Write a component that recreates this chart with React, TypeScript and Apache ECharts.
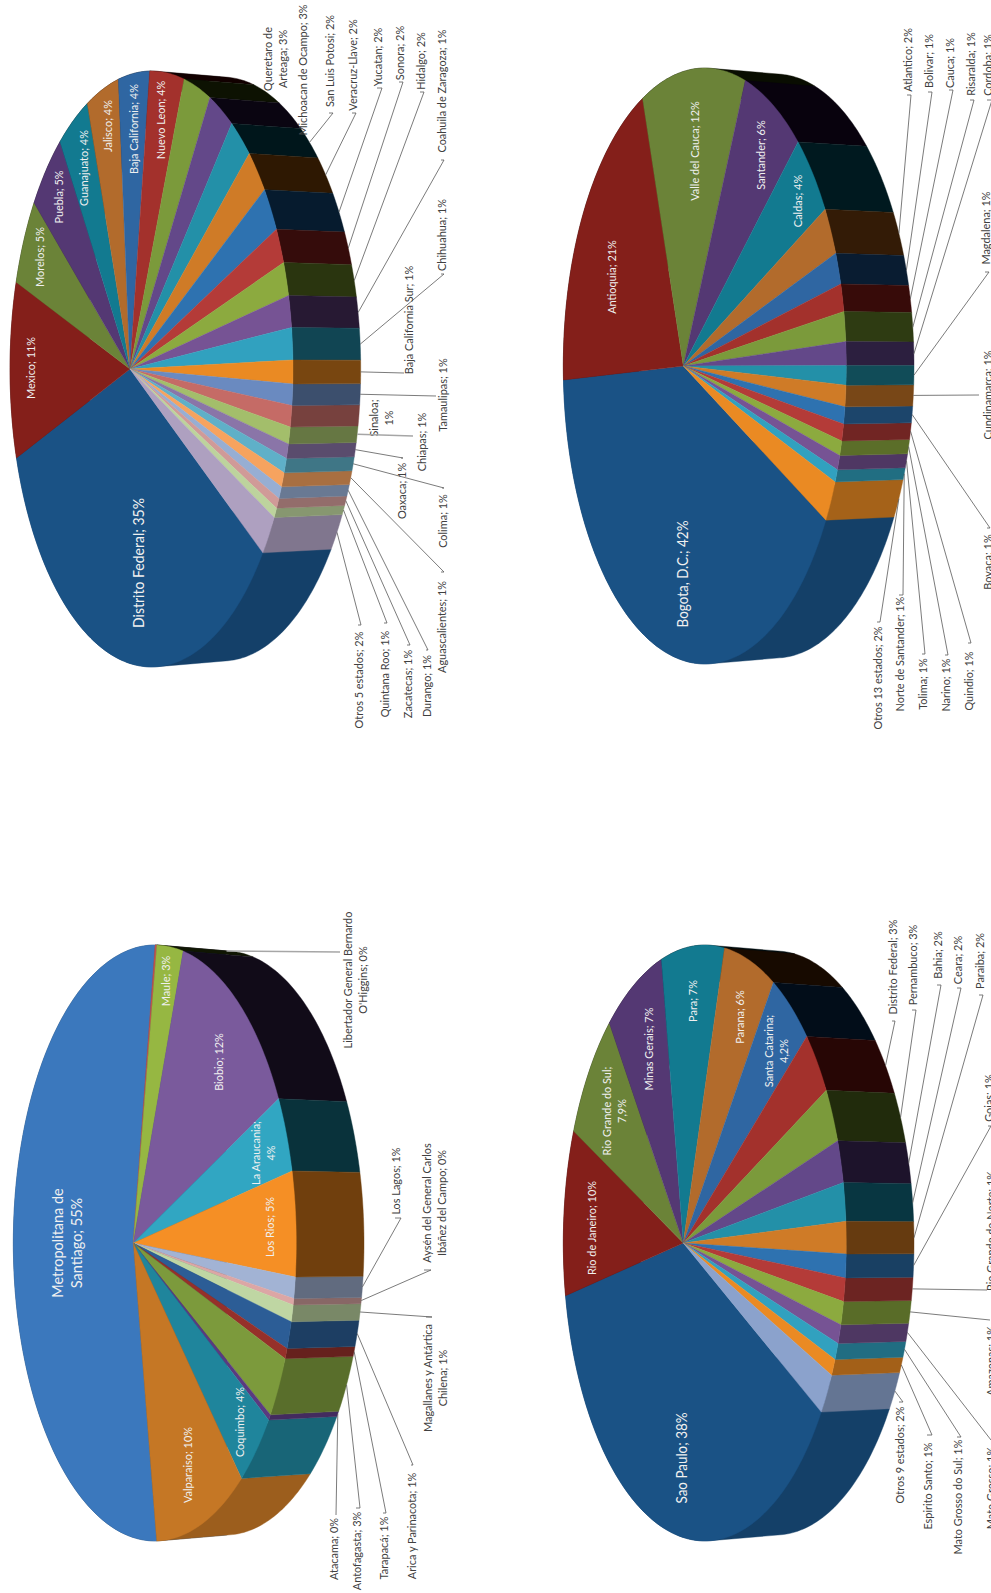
import React, { useEffect, useRef } from "react";
import * as echarts from "echarts";

// ---------- data ----------
const labelsMexico = ["Distrito Federal; 35%","Mexico; 11%","Morelos; 5%","Puebla; 5%","Guanajuato; 4%","Jalisco; 4%","Baja California; 4%","Nuevo Leon; 4%","Queretaro de\nArteaga; 3%","Michoacan de Ocampo; 3%","San Luis Potosi; 2%","Veracruz-Llave; 2%","Yucatan; 2%","Sonora; 2%","Hidalgo; 2%","Coahuila de Zaragoza; 1%","Chihuahua; 1%","Baja California Sur; 1%","Tamaulipas; 1%","Sinaloa;\n1%","Chiapas; 1%","Oaxaca; 1%","Colima; 1%","Aguascalientes; 1%","Durango; 1%","Zacatecas; 1%","Quintana Roo; 1%","Otros 5 estados; 2%"];
const valuesMexico = [35.3,11.1,5.4,4.9,4.0,3.9,3.6,3.8,2.9,2.6,2.3,2.3,2.2,1.7,1.6,1.5,1.5,1.1,1.0,1.0,0.8,0.7,0.7,0.7,0.6,0.5,0.5,2.0];

const labelsColombia = ["Bogota, D.C.; 42%","Antioquia; 21%","Valle del Cauca; 12%","Santander; 6%","Caldas; 4%","Atlantico; 2%","Bolivar; 1%","Cauca; 1%","Risaralda; 1%","Cordoba; 1%","Magdalena; 1%","Cundinamarca; 1%","Boyaca; 1%","Quindio; 1%","Narino; 1%","Tolima; 1%","Norte de Santander; 1%","Otros 13 estados; 2%"];
const valuesColombia = [41.7,20.9,11.9,6.3,4.2,2.3,1.5,1.3,1.4,1.1,0.9,1.0,0.8,0.8,0.7,0.7,0.6,2.0];

const labelsChile = ["Metropolitana de\nSantiago; 55%","Libertador General Bernardo\nO'Higgins; 0%","Maule; 3%","Biobio; 12%","La Araucania;\n4%","Los Rios; 5%","Los Lagos; 1%","Aysén del General Carlos\nIbáñez del Campo; 0%","Magallanes y Antártica\nChilena; 1%","Arica y Parinacota; 1%","Tarapacá; 1%","Antofagasta; 3%","Atacama; 0%","Coquimbo; 4%","Valparaiso; 10%"];
const valuesChile = [55.1,0.2,2.9,12.5,3.6,4.9,1.0,0.3,0.8,1.3,0.5,3.0,0.3,3.9,9.7];

const labelsBrazil = ["Sao Paulo; 38%","Rio de Janeiro; 10%","Rio Grande do Sul;\n7,9%","Minas Gerais; 7%","Para; 7%","Parana; 6%","Santa Catarina;\n4,2%","Distrito Federal; 3%","Pernambuco; 3%","Bahia; 2%","Ceara; 2%","Paraiba; 2%","Goias; 1%","Rio Grande do Norte; 1%","Amazonas; 1%","Mato Grosso; 1%","Mato Grosso do Sul; 1%","Espirito Santo; 1%","Otros 9 estados; 2%"];
const valuesBrazil = [38.4,10.4,8.0,7.3,7.2,5.5,4.3,3.2,2.6,2.0,1.8,1.5,1.1,1.1,1.1,0.9,0.8,0.8,2.0];

// ---------- colours ----------
const paletteMain = ["#1a5285","#841f1a","#6b8338","#543873","#127a90","#b26b2c","#2f66a2","#a3312c","#7b9a3b","#634889","#2390a8","#cf7b27","#2e72b0","#b43b38","#8caa3f","#765394","#31a1bf","#ea8a23","#6a8ac0","#c56b66","#a3be6b","#8a75a8","#5fb0c8","#f6a35f","#97aed3","#d09a98","#bdd39d","#aea0c0"];
const paletteChile = ["#3b78bd","#c0504d","#96b742","#7a5a9c","#31a6c2","#f58f25","#a2b3d4","#dca6a5","#bfd6a3","#2c5d96","#96302a","#7c9a3c","#5a3a80","#1f859c","#c57725"];
const paletteBrazil = [...paletteMain.slice(0, 18), "#8ba2cc"];

// ---------- label layout (page pixels, apart from the data) ----------
type Lay = { x: number; y: number; inside?: boolean; size?: number; ex?: number; ey?: number; sx?: number | null; thick?: boolean };
const I = (x: number, y: number, size = 12): Lay => ({ x, y, inside: true, size });
const N = (x: number, y: number): Lay => ({ x, y });
const L = (x: number, y: number, ex: number, ey: number, sx: number | null = null, thick = false): Lay => ({ x, y, ex, ey, sx, thick });

const layoutMexico: Lay[] = [I(138,563,15.4),I(30,368),I(39,257),I(58,197),I(83,168),I(107,126),I(133,129),I(160,120),N(275,59),N(302,70),L(329,61,333,113,329),L(352,65,356,113,352),L(377,57,382,88,377),L(399,53,403,82,399),L(420,61,424,92,420),L(441,91,444,160,441),L(441,235,444,274,441),L(408,320,404,373),L(442,395,436,396),N(380.5,418),L(421,442,413,436,null,true),L(401,491,403,458,401),L(442,521,444,488,442),L(441,627,444,572,441),L(426,686,428,650,426),L(407,684,410,645,407),L(384,674,387,623,384),L(358,680,361,625,358)];
const layoutColombia: Lay[] = [I(682,574,14.8),I(611,277),I(694,151),I(760,155),I(797,201),L(907,60,911,95,907),L(928,61,932,92,928),L(949,63,953,90,949),L(970,64,974,100,970),L(987,65,992,100,987),L(985,228,989,272,985),L(987,395,979,395),L(987,562,990,528,987),L(968,681,971,643,968),L(945,685,948,655,945),L(922,684,925,654,922),L(899,654,903,595,899),L(877,678,880,622,877)];
const layoutChile: Lay[] = [I(66,1243,15.9),L(355,980,340,952,null,true),I(165,981),I(218,1062),I(262.5,1153),I(269,1227),L(395,1181,401,1218,395),L(434,1203,431,1270,424),L(435,1378,432,1317,426),L(411,1526,413,1465,411),L(383,1548,386,1513,383),L(356,1551,360,1508,356),L(333,1549,336,1515),I(239,1422),I(187,1465)];
const layoutBrazil: Lay[] = [I(681,1458,14.8),I(591,1228),I(613.5,1111),I(648,1049),I(692,1001),I(739,1017),I(775.5,1051),L(892,967,895,1021,892),L(912,965,916,1010,912),L(937,955,941,985,937),L(957,960,961,988,957),L(979,961,983,995,979),L(988,1098,991,1126,988),L(990,1231,987,1290),L(990,1361,990,1320),L(990,1488,991,1440),L(957,1497,961,1437,957),L(927,1486,932,1435,927),L(899,1455,903,1402,899)];

// ---------- 3D projection of the pie: perspective seen from the right of the page ----------
const A = 138.2, C = -0.152, D = 294.5, S = 0.98, DEPTH = 71;
const topPoint = (cx: number, cy: number, t: number) => {
  const u = Math.cos(t), v = Math.sin(t), w = 1 + C * u;
  return [cx + (A * u) / w, cy + (D * v) / w];
};
const wallPoint = (cx: number, cy: number, t: number) => {
  const u = Math.cos(t), v = Math.sin(t), w = 1 + C * u;
  return [cx + DEPTH + (S * A * u) / w, cy + (S * D * v) / w];
};
const steps = (a0: number, a1: number, d: number) => {
  const n = Math.max(2, Math.ceil(Math.abs(a1 - a0) / d));
  const out: number[] = [];
  for (let i = 0; i <= n; i++) out.push(a0 + ((a1 - a0) * i) / n);
  return out;
};
// Convex outline of the swept wall: its inner side is hidden by the top face, so a
// single polygon gives the straight silhouette edges with no seams between pieces.
const hull = (input: number[][]) => {
  const pts = [...input].sort((a, b) => a[0] - b[0] || a[1] - b[1]);
  const cross = (o: number[], a: number[], b: number[]) => (a[0] - o[0]) * (b[1] - o[1]) - (a[1] - o[1]) * (b[0] - o[0]);
  const half = (list: number[][]) => {
    const h: number[][] = [];
    for (const q of list) {
      while (h.length >= 2 && cross(h[h.length - 2], h[h.length - 1], q) <= 0) h.pop();
      h.push(q);
    }
    h.pop();
    return h;
  };
  return [...half(pts), ...half([...pts].reverse())];
};
const shadeStops = [[-1,0.16],[-0.8,0.2],[-0.6,0.29],[-0.45,0.33],[-0.3,0.36],[-0.18,0.4],[0,0.52],[0.1,0.58],[0.33,0.67],[0.6,0.75],[1,0.8]];
const shadeAt = (t: number) => {
  for (let i = 1; i < shadeStops.length; i++) {
    const [x0, y0] = shadeStops[i - 1], [x1, y1] = shadeStops[i];
    if (t <= x1) return y0 + ((y1 - y0) * (t - x0)) / (x1 - x0);
  }
  return 0.8;
};
const wallColor = (hex: string, t: number) => {
  const n = parseInt(hex.slice(1), 16);
  const f = shadeAt(t);
  const k = Math.max(0, Math.min(8, (0.1 - t) * 30));
  const ch = (s: number) => Math.max(0, Math.round(((n >> s) & 255) * f - k));
  return `rgb(${ch(16)},${ch(8)},${ch(0)})`;
};

type Pie = { labels: string[]; values: number[]; colors: string[]; layout: Lay[]; cx: number; cy: number; start: number };
const pies: Pie[] = [
  { labels: labelsMexico, values: valuesMexico, colors: paletteMain, layout: layoutMexico, cx: 130, cy: 369, start: 33 },
  { labels: labelsColombia, values: valuesColombia, colors: paletteMain, layout: layoutColombia, cx: 683.3, cy: 366, start: 26.9 },
  { labels: labelsChile, values: valuesChile, colors: paletteChile, layout: layoutChile, cx: 133.3, cy: 1243, start: 80.5 },
  { labels: labelsBrazil, values: valuesBrazil, colors: paletteBrazil, layout: layoutBrazil, cx: 683.3, cy: 1243, start: 29.9 },
];

const FONT = "Lato, 'Open Sans', sans-serif";
const TEXT_SQUEEZE = 0.91;

function pieSeries(p: Pie): any[] {
  const total = p.values.reduce((s, x) => s + x, 0);
  let acc = (p.start * Math.PI) / 180;
  const spans = p.values.map((v) => {
    const a0 = acc;
    acc += (v / total) * Math.PI * 2;
    return [a0, acc];
  });
  const wallOrder = spans
    .map((s, i) => ({ i, m: Math.cos((s[0] + s[1]) / 2) }))
    .sort((a, b) => a.m - b.m)
    .map((o) => o.i);
  const top = (t: number) => topPoint(p.cx, p.cy, t);
  const out = (t: number) => wallPoint(p.cx, p.cy, t);

  const walls = {
    type: "custom", coordinateSystem: "none", silent: true, z: 1,
    data: wallOrder.map((i) => p.values[i]),
    renderItem: (params: any) => {
      const i = wallOrder[params.dataIndex];
      const [a0, a1] = spans[i];
      const ts = steps(a0, a1, 0.02);
      const front = ts.filter((t) => Math.cos(t) > -0.04).map((t) => top(t)[1] - p.cy);
      const list = front.length ? front : ts.map((t) => top(t)[1] - p.cy);
      const meanY = list.reduce((s, y) => s + y, 0) / list.length;
      const fill = wallColor(p.colors[i], meanY / 298);
      return {
        type: "polygon",
        shape: { points: hull([...ts.map(top), ...ts.map(out)]) },
        style: { fill, stroke: fill, lineWidth: 0.4 },
      };
    },
  };
  const faces = {
    type: "custom", coordinateSystem: "none", silent: true, z: 2,
    data: p.values,
    renderItem: (params: any) => {
      const [a0, a1] = spans[params.dataIndex];
      const fill = p.colors[params.dataIndex];
      return { type: "polygon", shape: { points: [[p.cx, p.cy], ...steps(a0, a1, 0.02).map(top)] }, style: { fill, stroke: fill, lineWidth: 0.4 } };
    },
  };
  const labels = {
    type: "custom", coordinateSystem: "none", silent: true, z: 3,
    data: p.values,
    renderItem: (params: any) => {
      const i = params.dataIndex;
      const l = p.layout[i];
      const size = l.size ?? 12;
      const children: any[] = [];
      if (l.ex !== undefined) {
        const anchor = out((spans[i][0] + spans[i][1]) / 2);
        const pts = [anchor, [l.ex, l.ey]];
        if (l.sx != null) pts.push([l.sx, l.ey as number]);
        children.push({
          type: "polyline", shape: { points: pts },
          style: { fill: "none", stroke: l.thick ? "#a6a6a6" : "#595959", lineWidth: l.thick ? 1.4 : 0.8 },
        });
      }
      children.push({
        type: "text", x: l.x, y: l.y, rotation: Math.PI / 2, scaleX: TEXT_SQUEEZE,
        style: {
          text: p.labels[i], fill: l.inside ? "#f0f0f0" : "#404040",
          fontFamily: FONT, fontSize: size, lineHeight: size * 1.22,
          align: "center", verticalAlign: "middle",
        },
      });
      return { type: "group", children };
    },
  };
  return [walls, faces, labels];
}

export default function App() {
  const ref = useRef<HTMLDivElement>(null);
  useEffect(() => {
    const chart = echarts.init(ref.current!, undefined, { renderer: "svg" });
    chart.setOption({ animation: false, backgroundColor: "#ffffff", series: pies.flatMap(pieSeries) });
    return () => chart.dispose();
  }, []);
  return <div ref={ref} style={{ position: "absolute", left: 0, top: 0, width: 991, height: 1593, overflow: "hidden" }} />;
}
